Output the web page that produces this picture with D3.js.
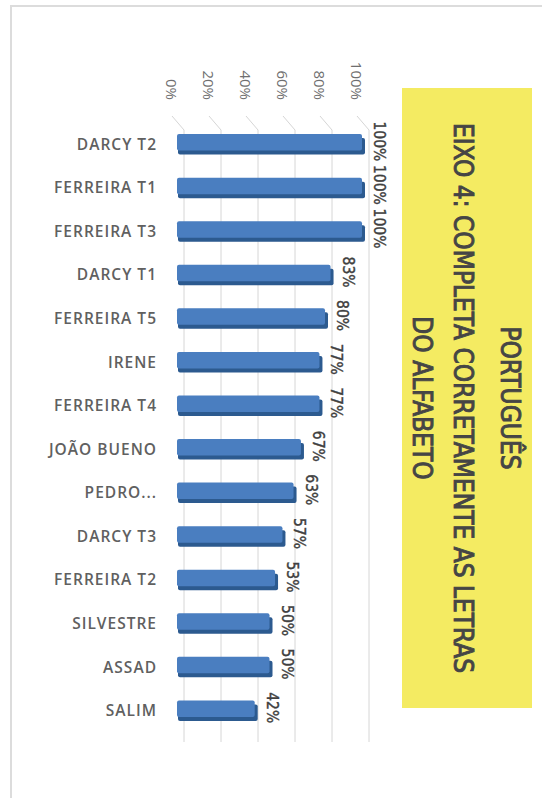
<!DOCTYPE html>
<meta charset="utf-8">
<style>
  body { margin: 0; background: #fff; }
</style>
<svg width="542" height="798"></svg>
<script src="https://d3js.org/d3.v7.min.js"></script>
<script>

var categories = ["DARCY T2", "FERREIRA T1", "FERREIRA T3", "DARCY T1", "FERREIRA T5", "IRENE", "FERREIRA T4",
                  "JOÃO BUENO", "PEDRO...", "DARCY T3", "FERREIRA T2", "SILVESTRE", "ASSAD", "SALIM"];
var values = [1.00, 1.00, 1.00, 0.83, 0.80, 0.77, 0.77, 0.67, 0.63, 0.57, 0.53, 0.50, 0.50, 0.42];
var ticks = [0, 0.2, 0.4, 0.6, 0.8, 1.0];
var titleLines = ["PORTUGUÊS", "EIXO 4: COMPLETA CORRETAMENTE AS LETRAS", "DO ALFABETO"];

var svg = d3.select("svg");

// moldura cinza clara
svg.append("rect")
  .attr("x", 11).attr("y", 6)
  .attr("width", 560).attr("height", 820)
  .attr("fill", "none")
  .attr("stroke", "#dcdcdc")
  .attr("stroke-width", 2);

var x = d3.scaleLinear().domain([0, 1]).range([177, 362]);
var y = d3.scaleBand().domain(categories).range([121, 730]).paddingInner(0.62).paddingOuter(0.3);

var gridTop = 130, gridBottom = 742;

// grade (parede do fundo com perspectiva)
var grid = svg.append("g").attr("stroke", "#d6d6d6").attr("stroke-width", 1).attr("fill", "none");
grid.selectAll("path")
  .data(ticks)
  .enter().append("path")
    .attr("d", function(d) {
      var gx = x(d) + 7;
      return "M" + (gx - 12) + "," + (gridTop - 14) + "L" + gx + "," + gridTop + "V" + gridBottom;
    });

// rótulos do eixo (girados)
svg.append("g")
  .selectAll("text")
  .data(ticks)
  .enter().append("text")
    .attr("transform", function(d) { return "translate(" + (x(d) - 11) + ",100) rotate(90)"; })
    .attr("text-anchor", "end")
    .attr("font-family", "Open Sans")
    .attr("font-size", "15px")
    .attr("fill", "#6f6f6f")
    .text(function(d) { return d3.format(".0%")(d); });

// barras 3D
var bars = svg.append("g")
  .selectAll("g")
  .data(categories)
  .enter().append("g");

var bh = y.bandwidth();

bars.append("rect")  // sombra / face inferior
  .attr("x", x(0) + 1)
  .attr("y", function(d) { return y(d) + 4; })
  .attr("width", function(d, i) { return x(values[i]) - x(0) + 2; })
  .attr("height", bh)
  .attr("rx", 2)
  .attr("fill", "#2c5a8f");

bars.append("rect")  // face frontal
  .attr("x", x(0))
  .attr("y", function(d) { return y(d); })
  .attr("width", function(d, i) { return x(values[i]) - x(0); })
  .attr("height", bh)
  .attr("rx", 2)
  .attr("fill", "#4a7ec0");

// rótulos de categoria
svg.append("g")
  .selectAll("text")
  .data(categories)
  .enter().append("text")
    .attr("x", 157)
    .attr("y", function(d) { return y(d) + bh / 2 + 2; })
    .attr("dy", "0.35em")
    .attr("text-anchor", "end")
    .attr("font-family", "Open Sans")
    .attr("font-weight", 600)
    .attr("font-size", "15.5px")
    .attr("letter-spacing", "1px")
    .attr("fill", "#606060")
    .text(function(d) { return d; });

// rótulos de dados (girados)
svg.append("g")
  .selectAll("text")
  .data(values)
  .enter().append("text")
    .attr("transform", function(d, i) {
      return "translate(" + (x(d) + 12) + "," + (y(categories[i]) + bh / 2 - 1) + ") rotate(90)";
    })
    .attr("text-anchor", "middle")
    .attr("font-family", "DejaVu Sans Condensed, DejaVu Sans")
    .attr("font-size", "15.5px")
    .attr("fill", "#404040")
    .attr("stroke", "#404040")
    .attr("stroke-width", 0.4)
    .text(function(d) { return d3.format(".0%")(d); });

// caixa do título
svg.append("rect")
  .attr("x", 402).attr("y", 88)
  .attr("width", 130).attr("height", 620)
  .attr("fill", "#f4eb62");

var titleX = [501, 454, 413];
svg.append("g")
  .selectAll("text")
  .data(titleLines)
  .enter().append("text")
    .attr("transform", function(d, i) { return "translate(" + titleX[i] + ",398) rotate(90)"; })
    .attr("text-anchor", "middle")
    .attr("font-family", "DejaVu Sans Condensed, DejaVu Sans")
    .attr("font-size", "26px")
    .attr("fill", "#454545")
    .attr("stroke", "#454545")
    .attr("stroke-width", 0.9)
    .text(function(d) { return d; });

</script>
